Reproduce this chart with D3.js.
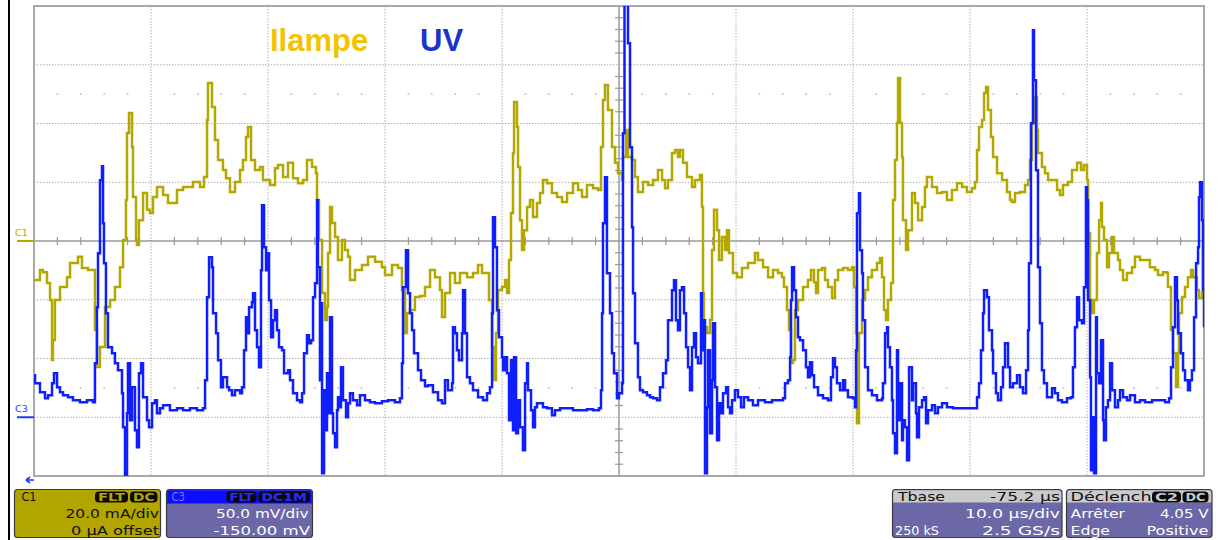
<!DOCTYPE html>
<html><head><meta charset="utf-8">
<script src="https://cdn.jsdelivr.net/npm/d3@7"></script>
<style>body{margin:0;background:#fff;}svg{display:block;}</style>
</head><body><svg id="c" width="1224" height="540"></svg>
<script>
// ---- data ----
// C1 : lamp current (mA) vs time (µs from left edge of screen)
const c1Trace = [[0,-13.3],[0.51,-9.9],[0.77,-10.6],[1.11,-14.3],[1.37,-20.1],[1.54,-40.5],[1.62,-33.7],[1.79,-20.1],[2.22,-15.7],[2.82,-12.3],[3.08,-7.5],[3.76,-5.4],[4.10,-9.2],[4.62,-9.9],[5.04,-9.9],[5.21,-30.3],[5.38,-42.9],[5.64,-36.1],[6.07,-22.5],[6.50,-20.1],[6.92,-15.7],[7.35,-8.9],[7.61,0.3],[7.86,14.0],[7.95,36.8],[8.12,43.6],[8.38,32.0],[8.46,15.0],[8.72,0.3],[8.80,-1.4],[8.97,7.1],[9.32,16.3],[9.66,10.6],[9.91,9.5],[10.17,15.0],[10.51,18.4],[11.03,15.7],[11.45,12.9],[12.22,17.4],[12.74,18.4],[13.59,20.1],[14.19,18.4],[14.53,21.8],[14.79,41.2],[14.87,53.8],[15.21,45.6],[15.47,34.4],[15.73,27.6],[16.15,24.2],[16.41,21.4],[16.75,16.7],[17.18,20.1],[17.61,24.2],[17.86,27.6],[18.12,35.4],[18.29,38.8],[18.55,27.6],[18.89,24.2],[19.32,25.2],[19.57,20.8],[20.17,19.1],[20.60,24.8],[20.85,25.9],[21.28,21.8],[21.71,26.6],[22.14,21.4],[22.56,19.7],[22.99,20.8],[23.33,27.6],[23.76,25.2],[24.10,23.1],[24.19,14.0],[24.36,0.3],[24.62,-17.7],[24.87,-26.9],[25.04,-22.5],[25.13,-4.1],[25.30,11.6],[25.47,6.1],[25.73,1.4],[25.98,-6.5],[26.32,0.3],[26.58,-3.1],[26.84,-5.4],[27.01,-13.3],[27.44,-9.9],[28.03,-8.2],[28.55,-5.4],[29.15,-7.1],[29.74,-8.9],[30.00,-11.6],[30.60,-8.2],[31.11,-9.2],[31.45,-16.7],[31.71,-31.3],[31.88,-24.5],[32.14,-23.5],[32.56,-19.1],[32.99,-18.7],[33.42,-15.7],[33.85,-9.9],[34.27,-12.3],[34.70,-16.7],[34.87,-25.9],[35.13,-17.7],[35.56,-10.9],[35.98,-14.3],[36.41,-10.9],[37.01,-12.3],[37.52,-10.9],[37.95,-8.2],[38.29,-10.9],[38.72,-10.9],[38.89,-20.1],[39.15,-36.1],[39.32,-47.3],[39.49,-31.3],[39.66,-16.7],[40.00,-15.7],[40.26,-13.3],[40.43,-17.7],[40.60,-6.5],[40.77,9.5],[40.94,30.0],[41.03,47.3],[41.28,38.8],[41.37,25.2],[41.54,7.1],[41.71,-3.1],[41.88,3.7],[42.14,11.6],[42.39,14.0],[42.65,8.2],[42.99,12.9],[43.25,16.3],[43.50,20.8],[43.85,19.7],[44.27,16.3],[44.70,15.0],[45.13,13.3],[45.56,16.3],[46.07,19.7],[46.50,17.4],[46.84,15.0],[47.26,19.1],[47.78,18.0],[48.21,17.4],[48.46,32.0],[48.63,48.0],[48.80,53.1],[49.06,44.6],[49.40,32.0],[49.66,26.6],[49.91,23.1],[50.26,20.8],[50.34,28.6],[50.60,37.8],[50.77,28.6],[51.11,27.6],[51.37,21.8],[51.62,16.7],[52.05,20.1],[52.48,19.1],[52.91,20.8],[53.33,24.2],[53.68,20.8],[53.93,18.0],[54.19,20.8],[54.53,30.0],[54.79,31.0],[55.04,28.6],[55.21,31.0],[55.47,26.6],[55.81,21.8],[56.24,18.4],[56.50,20.8],[56.92,22.5],[57.09,11.6],[57.18,-17.7],[57.26,-29.3],[57.52,-31.3],[57.78,-26.9],[57.95,-3.1],[58.12,10.6],[58.38,3.7],[58.55,-6.5],[58.80,1.4],[59.06,-3.1],[59.23,3.7],[59.40,-4.1],[59.66,-4.1],[59.74,-10.9],[60.09,-12.3],[60.51,-9.2],[61.03,-7.5],[61.62,-4.1],[61.88,-6.5],[62.31,-8.9],[62.74,-12.3],[63.16,-9.9],[63.59,-10.9],[63.93,-12.3],[64.10,-15.7],[64.36,-23.5],[64.53,-30.3],[64.70,-41.5],[64.87,-40.5],[65.04,-23.5],[65.30,-20.1],[65.73,-15.7],[66.15,-13.3],[66.41,-9.9],[66.67,-14.0],[66.84,-17.7],[67.01,-9.9],[67.35,-9.2],[67.61,-13.3],[67.86,-15.7],[68.21,-19.4],[68.46,-13.3],[68.72,-9.9],[69.15,-9.2],[69.57,-9.9],[69.91,-8.9],[70.09,-15.7],[70.26,-31.3],[70.34,-62.0],[70.51,-31.3],[70.77,-20.1],[71.03,-16.7],[71.28,-12.3],[71.62,-9.9],[72.05,-7.5],[72.31,-5.8],[72.48,-12.3],[72.65,-23.5],[72.82,-26.9],[72.99,-20.1],[73.25,-14.3],[73.42,14.0],[73.59,27.6],[73.76,40.2],[73.85,55.5],[74.02,40.2],[74.19,28.6],[74.27,7.1],[74.53,-3.1],[74.70,3.7],[75.04,16.3],[75.30,12.9],[75.56,7.1],[75.90,11.6],[76.15,18.4],[76.32,21.8],[76.75,18.4],[77.18,16.3],[77.61,16.7],[78.03,14.0],[78.46,17.4],[78.89,19.7],[79.32,18.4],[79.74,16.7],[80.17,18.0],[80.43,20.1],[80.60,31.0],[80.77,38.8],[81.03,41.2],[81.20,50.4],[81.37,52.4],[81.54,44.6],[81.79,35.4],[81.97,28.6],[82.31,23.1],[82.74,20.8],[83.16,16.7],[83.42,14.0],[83.59,13.3],[83.85,16.3],[84.27,16.7],[84.70,19.1],[84.96,20.8],[85.13,27.6],[85.30,40.2],[85.47,49.0],[85.73,37.8],[85.81,30.0],[86.15,25.2],[86.41,23.1],[86.67,20.8],[87.09,20.8],[87.44,17.4],[87.69,15.7],[87.95,19.1],[88.38,20.1],[88.72,24.2],[89.15,26.6],[89.49,24.2],[89.74,25.9],[90.00,20.8],[90.09,2.7],[90.26,-20.1],[90.43,-24.5],[90.60,-20.1],[90.85,-4.1],[91.03,7.1],[91.20,12.9],[91.28,4.8],[91.45,0.3],[91.71,-8.9],[91.88,-4.1],[92.14,1.4],[92.31,-4.1],[92.65,-6.5],[92.82,-9.9],[93.08,-13.3],[93.42,-10.9],[93.85,-8.9],[94.10,-5.4],[94.53,-6.5],[94.96,-6.5],[95.38,-8.9],[95.81,-9.9],[96.07,-11.6],[96.50,-10.6],[96.84,-10.9],[96.92,-15.7],[97.18,-30.3],[97.35,-38.1],[97.61,-49.7],[97.78,-38.1],[97.86,-24.5],[98.12,-19.1],[98.38,-15.7],[98.63,-12.3],[98.89,-9.9],[99.06,-12.3],[99.40,-16.7],[99.57,-19.4],[99.83,-17.7],[100,-12.3]];
// C3 : UV detector (mV) vs time (µs)
const c3Trace = [[0,35.7],[0.09,28.9],[0.51,21.3],[0.94,16.2],[1.20,18.7],[1.54,28.9],[1.71,37.4],[1.97,25.5],[2.22,21.3],[2.48,18.7],[2.91,17.0],[3.33,14.5],[3.93,12.8],[4.53,14.5],[5.04,12.8],[5.21,46.0],[5.38,93.6],[5.47,139.6],[5.64,201.7],[5.81,213.6],[5.90,165.1],[5.98,131.1],[6.15,88.5],[6.32,59.6],[6.67,54.5],[6.92,46.0],[7.18,40.0],[7.52,20.4],[7.61,-8.5],[7.78,-51.1],[7.95,3.4],[8.03,46.0],[8.21,-2.6],[8.38,25.5],[8.63,-11.1],[8.80,-25.5],[8.97,37.4],[9.15,46.0],[9.32,17.0],[9.66,-2.6],[9.83,-8.5],[10.09,11.9],[10.34,14.5],[10.51,3.4],[10.77,7.7],[11.03,10.2],[11.62,6.0],[12.22,7.7],[12.74,6.0],[13.33,7.7],[13.93,6.0],[14.44,7.7],[14.62,31.5],[14.79,102.1],[14.96,136.2],[15.21,127.7],[15.30,88.5],[15.56,71.5],[15.73,48.5],[15.98,25.5],[16.15,34.0],[16.50,25.5],[16.67,23.0],[16.92,18.7],[17.18,23.0],[17.61,20.4],[17.78,25.5],[17.95,57.0],[18.12,85.1],[18.21,71.5],[18.38,93.6],[18.63,97.9],[18.72,105.5],[18.89,74.0],[19.06,59.6],[19.23,42.6],[19.40,125.1],[19.49,180.4],[19.66,144.7],[19.83,125.1],[19.91,139.6],[20.09,99.6],[20.26,68.1],[20.43,82.5],[20.60,91.1],[20.77,74.0],[20.94,59.6],[21.20,57.0],[21.37,37.4],[21.71,40.0],[21.88,31.5],[22.14,20.4],[22.48,14.5],[22.74,12.8],[22.91,20.4],[23.08,54.5],[23.33,69.8],[23.50,63.0],[23.68,65.5],[23.85,102.1],[24.02,114.0],[24.19,184.7],[24.27,127.7],[24.44,31.5],[24.53,97.0],[24.62,-47.7],[24.79,23.0],[24.87,-11.1],[25.04,37.4],[25.13,3.4],[25.30,85.1],[25.47,3.4],[25.56,-13.6],[25.73,-25.5],[25.90,6.0],[25.98,17.0],[26.15,8.5],[26.24,42.6],[26.41,14.5],[26.67,0],[26.84,11.9],[27.01,20.4],[27.26,14.5],[27.61,10.2],[27.86,18.7],[28.29,14.5],[28.72,12.8],[29.15,11.9],[29.74,13.6],[30.26,14.5],[30.85,12.8],[31.28,16.2],[31.45,46.0],[31.54,110.6],[31.79,142.1],[31.97,105.5],[32.14,88.5],[32.31,74.0],[32.48,54.5],[32.82,40.0],[33.08,31.5],[33.42,26.4],[33.68,27.2],[34.10,21.3],[34.53,14.5],[34.87,11.9],[35.13,31.5],[35.38,23.0],[35.73,28.9],[35.81,76.6],[35.98,71.5],[36.15,57.0],[36.32,48.5],[36.58,71.5],[36.67,108.1],[36.84,71.5],[37.01,34.0],[37.26,28.9],[37.52,23.0],[37.95,17.0],[38.38,14.5],[38.72,20.4],[38.97,25.5],[39.15,88.5],[39.23,170.2],[39.40,144.7],[39.57,91.1],[39.74,68.1],[40.00,51.1],[40.09,40.0],[40.26,51.1],[40.43,37.4],[40.60,-2.6],[40.77,48.5],[40.94,-11.1],[41.03,51.1],[41.20,-13.6],[41.37,14.5],[41.54,-8.5],[41.79,-28.1],[41.97,28.9],[42.14,46.0],[42.22,23.0],[42.48,6.0],[42.65,-8.5],[42.82,8.5],[42.99,11.9],[43.25,11.9],[43.50,8.5],[43.85,7.7],[44.27,1.7],[44.53,6.0],[44.96,7.7],[45.56,7.7],[46.07,6.0],[46.67,6.0],[47.26,6.8],[47.78,6.0],[48.29,7.7],[48.46,23.0],[48.55,88.5],[48.63,165.1],[48.80,204.2],[48.97,122.5],[49.23,88.5],[49.40,54.5],[49.57,37.4],[49.83,16.2],[50.00,20.4],[50.26,28.9],[50.34,241.7],[50.47,380],[50.68,380],[50.77,318.3],[50.94,229.8],[51.11,161.7],[51.20,105.5],[51.37,63.0],[51.62,34.0],[51.79,23.0],[52.05,21.3],[52.39,18.7],[52.65,17.0],[52.91,16.2],[53.25,14.5],[53.50,25.5],[53.76,37.4],[54.02,48.5],[54.19,82.5],[54.53,108.1],[54.70,116.6],[54.87,82.5],[55.04,74.0],[55.21,108.1],[55.38,110.6],[55.56,88.5],[55.73,59.6],[55.90,42.6],[56.07,23.0],[56.24,59.6],[56.41,71.5],[56.58,51.1],[56.75,46.0],[57.01,105.5],[57.09,57.0],[57.26,82.5],[57.35,-47.7],[57.52,8.5],[57.61,57.0],[57.78,-13.6],[57.95,31.5],[58.03,80.0],[58.21,25.5],[58.38,-19.6],[58.55,11.9],[58.72,3.4],[58.89,20.4],[59.15,25.5],[59.32,8.5],[59.49,3.4],[59.66,14.5],[59.91,23.0],[60.17,17.0],[60.43,8.5],[60.68,17.0],[61.03,14.5],[61.45,10.2],[61.88,14.5],[62.48,12.8],[63.08,14.5],[63.59,14.5],[64.02,16.2],[64.19,28.9],[64.44,31.5],[64.62,51.1],[64.70,99.6],[64.79,127.7],[64.96,108.1],[65.13,85.1],[65.30,68.1],[65.47,65.5],[65.73,57.0],[65.98,42.6],[66.15,34.0],[66.32,46.8],[66.50,35.7],[66.67,25.5],[67.01,18.7],[67.44,16.2],[67.86,14.5],[68.12,34.0],[68.29,50.2],[68.46,42.6],[68.63,28.9],[68.89,23.0],[69.15,31.5],[69.32,23.0],[69.57,17.0],[70.00,16.2],[70.17,8.5],[70.26,57.0],[70.34,173.6],[70.51,190.6],[70.60,142.1],[70.77,122.5],[70.85,82.5],[71.03,42.6],[71.28,23.0],[71.62,18.7],[72.05,14.5],[72.48,16.2],[72.56,28.9],[72.74,71.5],[72.91,76.6],[72.99,59.6],[73.16,42.6],[73.33,14.5],[73.42,-13.6],[73.59,-30.6],[73.76,57.0],[73.85,-2.6],[74.02,28.9],[74.19,-19.6],[74.27,-2.6],[74.44,-8.5],[74.62,-36.6],[74.79,42.6],[75.04,14.5],[75.13,28.9],[75.38,3.4],[75.47,-17.0],[75.64,8.5],[75.90,14.5],[76.07,17.0],[76.24,-5.1],[76.41,6.0],[76.75,10.2],[77.01,3.4],[77.26,8.5],[77.61,11.9],[78.03,8.5],[78.55,7.7],[79.15,7.7],[79.74,7.7],[80.26,7.7],[80.60,17.0],[80.77,28.9],[80.94,57.0],[81.11,88.5],[81.20,108.1],[81.45,102.1],[81.62,74.0],[81.88,57.0],[81.97,37.4],[82.22,20.4],[82.39,14.5],[82.65,25.5],[82.82,42.6],[82.99,63.0],[83.25,42.6],[83.42,25.5],[83.68,28.9],[84.02,35.7],[84.27,25.5],[84.53,20.4],[84.79,40.0],[84.96,74.0],[85.04,131.1],[85.21,250.2],[85.38,329.3],[85.47,286.8],[85.64,210.2],[85.81,127.7],[85.98,80.0],[86.15,40.0],[86.32,28.9],[86.58,17.0],[86.84,17.0],[87.01,24.7],[87.26,20.4],[87.52,14.5],[87.86,12.8],[88.29,16.2],[88.63,17.0],[88.80,42.6],[88.97,76.6],[89.15,102.1],[89.32,82.5],[89.57,80.0],[89.74,110.6],[89.91,195.7],[90.00,184.7],[90.09,99.6],[90.26,34.0],[90.34,-45.1],[90.51,0],[90.60,-47.7],[90.77,85.1],[90.85,37.4],[91.03,28.9],[91.20,65.5],[91.37,-2.6],[91.45,-19.6],[91.62,8.5],[91.79,14.5],[91.97,46.0],[92.14,23.0],[92.39,8.5],[92.65,14.5],[92.82,23.0],[93.08,17.0],[93.42,14.5],[93.68,18.7],[94.10,12.8],[94.53,14.5],[94.96,12.8],[95.56,14.5],[96.07,14.5],[96.67,12.8],[97.01,16.2],[97.18,42.6],[97.35,76.6],[97.52,119.1],[97.69,99.6],[97.78,71.5],[98.03,54.5],[98.21,40.0],[98.38,31.5],[98.63,23.0],[98.80,31.5],[98.97,40.0],[99.15,85.1],[99.32,131.1],[99.49,144.7],[99.57,187.2],[99.66,200.0],[99.83,167.6],[99.91,108.1],[100,76.6]];

const traceLabels = ["Ilampe", "UV"];
const channelMarkers = ["C1", "C3"];
const c1Info = ["C1", "20.0 mA/div", "0 µA offset"];
const c1Badges = ["FLT", "DC"];
const c3Info = ["C3", "50.0 mV/div", "-150.00 mV"];
const c3Badges = ["FLT", "DC1M"];
const tbaseInfo = ["Tbase", "-75.2 µs", "10.0 µs/div", "250 kS", "2.5 GS/s"];
const trigInfo = ["Déclench", "Arrêter", "4.05 V", "Edge", "Positive"];
const trigBadges = ["C2", "DC"];
const timeDomain = [0, 100];      // µs, 10 µs/div
const c1Domain = [-80, 80];       // mA, 20 mA/div
const c3Domain = [-50, 350];      // mV, 50 mV/div, -150 mV offset

// ---- layout ----
const L = 34, R = 1204, T = 6, B = 476;
const svg = d3.select("#c");
const x = d3.scaleLinear().domain(timeDomain).range([L, R]);
const y1 = d3.scaleLinear().domain(c1Domain).range([B, T]);
const y3 = d3.scaleLinear().domain(c3Domain).range([B, T]);

const YEL = "#b3a800", BLU = "#0f1eff", GRID = "#b0b0b0";

// left black bar
svg.append("rect").attr("x", 8).attr("y", 0).attr("width", 2).attr("height", 540).attr("fill", "#000");

// grid
const g = svg.append("g");
const xMajor = d3.range(timeDomain[0], timeDomain[1] + 0.1, 10);
const yMajor = d3.range(c1Domain[0], c1Domain[1] + 0.1, 20);
g.selectAll(".vx").data(xMajor.slice(1, -1).filter(v => v !== 50)).join("line")
  .attr("x1", d => x(d)).attr("x2", d => x(d)).attr("y1", T).attr("y2", B)
  .attr("stroke", GRID).attr("stroke-width", 1).attr("stroke-dasharray", "1.5,1.5");
g.selectAll(".hy").data(yMajor.slice(1, -1).filter(v => v !== 0)).join("line")
  .attr("y1", d => y1(d)).attr("y2", d => y1(d)).attr("x1", L).attr("x2", R)
  .attr("stroke", GRID).attr("stroke-width", 1).attr("stroke-dasharray", "1.5,1.5");
// minor dot rows
const minorX = d3.range(0, 100.1, 2).filter(v => v % 10 !== 0);
[50, -50].forEach(v => {
  g.selectAll(null).data(minorX).join("rect")
    .attr("x", d => x(d) - 0.75).attr("y", y1(v) - 0.75).attr("width", 1.5).attr("height", 1.5).attr("fill", "#b8b8b8");
});
// center axes
g.append("line").attr("x1", L).attr("x2", R).attr("y1", y1(0)).attr("y2", y1(0)).attr("stroke", "#9a9a9a").attr("stroke-width", 1.5);
g.append("line").attr("x1", x(50)).attr("x2", x(50)).attr("y1", T).attr("y2", B).attr("stroke", "#9a9a9a").attr("stroke-width", 1.5);
g.selectAll(null).data(minorX).join("line")
  .attr("x1", d => x(d)).attr("x2", d => x(d)).attr("y1", y1(0) - 4).attr("y2", y1(0) + 4)
  .attr("stroke", "#9a9a9a").attr("stroke-width", 1.2);
const minorY = d3.range(-80, 80.1, 4).filter(v => v % 20 !== 0);
g.selectAll(null).data(minorY).join("line")
  .attr("y1", d => y1(d)).attr("y2", d => y1(d)).attr("x1", x(50) - 4).attr("x2", x(50) + 4)
  .attr("stroke", "#9a9a9a").attr("stroke-width", 1.2);
// frame
g.append("rect").attr("x", L).attr("y", T).attr("width", R - L).attr("height", B - T)
  .attr("fill", "none").attr("stroke", "#a8a8a8").attr("stroke-width", 2);

// clip
svg.append("clipPath").attr("id", "plot").append("rect").attr("x", L).attr("y", T).attr("width", R - L).attr("height", B - T);

// traces (sample-and-hold look of the scope display)
const lineC1 = d3.line().x(d => x(d[0])).y(d => y1(d[1])).curve(d3.curveStepAfter);
const lineC3 = d3.line().x(d => x(d[0])).y(d => y3(d[1])).curve(d3.curveStepAfter);
const tg = svg.append("g").attr("clip-path", "url(#plot)");
tg.append("path").datum(c1Trace).attr("d", lineC1).attr("fill", "none")
  .attr("stroke", YEL).attr("stroke-width", 2.5).attr("stroke-linejoin", "miter");
tg.append("path").datum(c3Trace).attr("d", lineC3).attr("fill", "none")
  .attr("stroke", BLU).attr("stroke-width", 2.5).attr("stroke-linejoin", "miter");

// channel markers
const mk = [[channelMarkers[0], y1(0), YEL], [channelMarkers[1], y3(0), "#1a3cff"]];
mk.forEach(([t, yy, col]) => {
  svg.append("text").text(t).attr("x", 15).attr("y", yy - 5).attr("fill", col)
    .attr("font-family", "DejaVu Sans, sans-serif").attr("font-size", 9.5);
  svg.append("line").attr("x1", 17).attr("x2", L).attr("y1", yy).attr("y2", yy).attr("stroke", col).attr("stroke-width", 2);
});

// trigger arrow
svg.append("path").attr("d", "M26,480 L34,480 M26,480 L30,477 M26,480 L30,483")
  .attr("stroke", "#1a3cff").attr("stroke-width", 1.6).attr("fill", "none");

// trace labels
svg.append("text").text(traceLabels[0]).attr("x", 270).attr("y", 51).attr("fill", "#f3c300")
  .attr("font-family", "Liberation Sans, Arial, sans-serif").attr("font-weight", "bold").attr("font-size", 31);
svg.append("text").text(traceLabels[1]).attr("x", 420).attr("y", 51).attr("fill", "#1b33cc")
  .attr("font-family", "Liberation Sans, Arial, sans-serif").attr("font-weight", "bold").attr("font-size", 31);

// ---- info boxes ----
const FONT = "DejaVu Sans, sans-serif";
function txt(str, xl, base, w, col, size) {
  svg.append("text").text(str).attr("x", xl).attr("y", base).attr("fill", col)
    .attr("font-family", FONT).attr("font-size", size || 13)
    .attr("textLength", w).attr("lengthAdjust", "spacingAndGlyphs");
}
function pill(x0, x1, label, col) {
  svg.append("rect").attr("x", x0).attr("y", 491.5).attr("width", x1 - x0).attr("height", 11)
    .attr("rx", 4).attr("fill", "#0a0a0a");
  svg.append("text").text(label).attr("x", (x0 + x1) / 2).attr("y", 501).attr("fill", col)
    .attr("text-anchor", "middle").attr("font-family", FONT).attr("font-size", 10.5).attr("font-weight", "bold")
    .attr("textLength", x1 - x0 - 6).attr("lengthAdjust", "spacingAndGlyphs");
}
const PURP = "#6c67a6";
// C1
svg.append("rect").attr("x", 14.5).attr("y", 489.5).attr("width", 146).attr("height", 48).attr("rx", 3)
  .attr("fill", "#b2a500").attr("stroke", "#3a3a3a").attr("stroke-width", 1.2);
txt(c1Info[0], 21.5, 501, 15, "#111");
pill(95, 128, c1Badges[0], "#b2a500");
pill(130, 157.5, c1Badges[1], "#b2a500");
txt(c1Info[1], 65.5, 518, 93.5, "#111");
txt(c1Info[2], 71, 535, 88, "#111");
// C3
svg.append("rect").attr("x", 166.5).attr("y", 489.5).attr("width", 146).attr("height", 48).attr("rx", 3)
  .attr("fill", PURP).attr("stroke", "#3a3a3a").attr("stroke-width", 1.2);
svg.append("path").attr("d", "M167.2,503.5 L167.2,492.5 Q167.2,490.2 169.5,490.2 L309.5,490.2 Q311.8,490.2 311.8,492.5 L311.8,503.5 Z")
  .attr("fill", "#0c0cff");
txt(c3Info[0], 171.5, 501, 13.5, "#7a7aff");
pill(226.5, 256.5, c3Badges[0], "#2a2aff");
pill(258.5, 310, c3Badges[1], "#2a2aff");
txt(c3Info[1], 216, 518, 92.5, "#fff");
txt(c3Info[2], 213.5, 535, 96.5, "#fff");
// Tbase
svg.append("rect").attr("x", 892.5).attr("y", 489.5).attr("width", 169.5).attr("height", 48).attr("rx", 3)
  .attr("fill", PURP).attr("stroke", "#3a3a3a").attr("stroke-width", 1.2);
svg.append("path").attr("d", "M893.2,502.5 L893.2,492.5 Q893.2,490.2 895.5,490.2 L1059,490.2 Q1061.3,490.2 1061.3,492.5 L1061.3,502.5 Z")
  .attr("fill", "#cacaca");
txt(tbaseInfo[0], 898, 500.5, 47, "#111");
txt(tbaseInfo[1], 990, 500.5, 70, "#111");
txt(tbaseInfo[2], 965, 517.5, 95, "#fff");
txt(tbaseInfo[3], 895, 534.5, 44, "#fff");
txt(tbaseInfo[4], 982, 534.5, 78, "#fff");
// Trigger
svg.append("rect").attr("x", 1066.5).attr("y", 489.5).attr("width", 145.5).attr("height", 48).attr("rx", 3)
  .attr("fill", PURP).attr("stroke", "#3a3a3a").attr("stroke-width", 1.2);
svg.append("path").attr("d", "M1067.2,502.5 L1067.2,492.5 Q1067.2,490.2 1069.5,490.2 L1209,490.2 Q1211.3,490.2 1211.3,492.5 L1211.3,502.5 Z")
  .attr("fill", "#cacaca");
txt(trigInfo[0], 1070.5, 500.5, 81, "#111");
pill(1152, 1181, trigBadges[0], "#cacaca");
pill(1182.5, 1208.5, trigBadges[1], "#cacaca");
txt(trigInfo[1], 1070.5, 517.5, 54.5, "#fff");
txt(trigInfo[2], 1160, 517.5, 48.5, "#fff");
txt(trigInfo[3], 1070.5, 534.5, 39.5, "#fff");
txt(trigInfo[4], 1146.5, 534.5, 62, "#fff");
</script></body></html>
